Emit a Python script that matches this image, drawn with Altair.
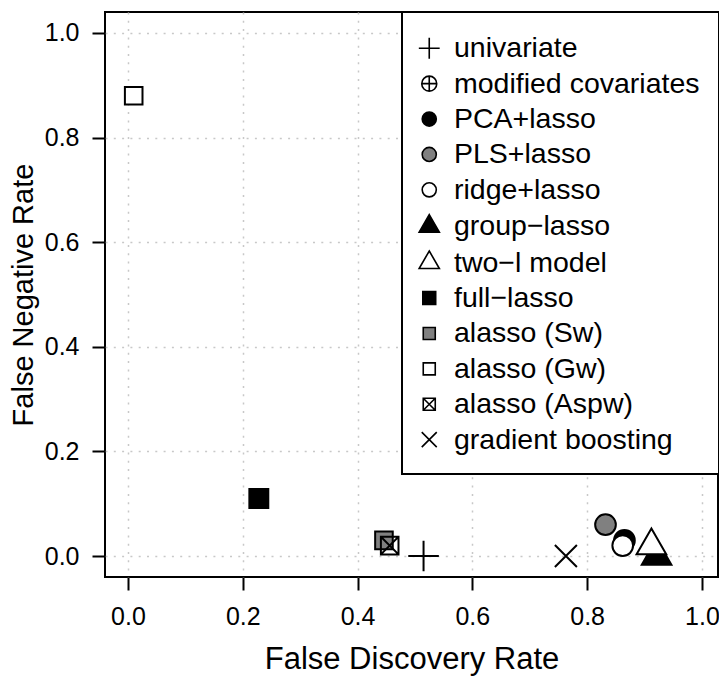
import altair as alt
import pandas as pd

# ---- data ----
methods = ["univariate", "modified covariates", "PCA+lasso", "PLS+lasso",
           "ridge+lasso", "group\u2212lasso", "two\u2212l model", "full\u2212lasso",
           "alasso (Sw)", "alasso (Gw)", "alasso (Aspw)", "gradient boosting"]
fdr = [0.515, None, 0.865, 0.832, 0.862, 0.921, 0.912, 0.228, 0.446, 0.010, 0.456, 0.763]
fnr = [0.000, None, 0.030, 0.060, 0.020, 0.000, 0.020, 0.110, 0.030, 0.880, 0.020, 0.000]
x_ticks = [0.0, 0.2, 0.4, 0.6, 0.8, 1.0]
y_ticks = [0.0, 0.2, 0.4, 0.6, 0.8, 1.0]

# ---- R-like plotting symbols (unit box -1..1) ----
CIRC = "M-0.94,0A0.94,0.94,0,1,0,0.94,0A0.94,0.94,0,1,0,-0.94,0Z"
SQ = "M-0.8,-0.8L0.8,-0.8L0.8,0.8L-0.8,0.8Z"
SQF = "M-0.86,-0.86L0.86,-0.86L0.86,0.86L-0.86,0.86Z"
TRI = "M0,-1.555L1.347,0.778L-1.347,0.778Z"
PLUS = "M-1.39,0L1.39,0M0,-1.39L0,1.39"
CROSS = "M-1,-1L1,1M-1,1L1,-1"
OPLUS = "M-1,0A1,1,0,1,0,1,0A1,1,0,1,0,-1,0ZM-1,0L1,0M0,-1L0,1"
BOXX = "M-0.8,-0.8L0.8,-0.8L0.8,0.8L-0.8,0.8ZM-0.8,-0.8L0.8,0.8M-0.8,0.8L0.8,-0.8"

shapes = [PLUS, OPLUS, CIRC, CIRC, CIRC, TRI, TRI, SQF, SQ, SQ, BOXX, CROSS]
fills = ["transparent", "transparent", "black", "#808080", "white", "black",
         "white", "black", "#808080", "white", "transparent", "transparent"]
strokes = ["black"] * len(methods)

df = pd.DataFrame({"method": methods, "fdr": fdr, "fnr": fnr})

FONT = "Liberation Sans"

legend = alt.Legend(
    title=" ", titleFontSize=1, titlePadding=2,
    orient="none", legendX=297, legendY=0,
    labelFont=FONT, labelFontSize=28.5, labelColor="black", labelLimit=500,
    labelOffset=10.5, symbolOffset=-6, symbolSize=225,
    symbolStrokeWidth=1.6, symbolOpacity=1, rowPadding=6.4,
    padding=19, strokeColor="black", fillColor="white",
)

chart = alt.Chart(df).mark_point(
    filled=True, strokeWidth=2, size=484, opacity=1
).encode(
    x=alt.X("fdr:Q", title="False Discovery Rate",
            scale=alt.Scale(domain=[-0.04, 1.028], nice=False, zero=False),
            axis=alt.Axis(values=x_ticks, format=".1f", labelPadding=14,
                          titlePadding=15, titleFontSize=31)),
    y=alt.Y("fnr:Q", title="False Negative Rate",
            scale=alt.Scale(domain=[-0.04, 1.04], nice=False, zero=False),
            axis=alt.Axis(values=y_ticks, format=".1f", labelPadding=13,
                          titlePadding=6, titleFontSize=29)),
    shape=alt.Shape("method:N", scale=alt.Scale(domain=methods, range=shapes),
                    legend=legend),
    fill=alt.Fill("method:N", scale=alt.Scale(domain=methods, range=fills),
                  legend=legend),
    stroke=alt.Stroke("method:N", scale=alt.Scale(domain=methods, range=strokes),
                      legend=legend),
).properties(
    width=613, height=565,
    autosize=alt.AutoSizeParams(type="none"),
    padding={"left": 97, "top": 4, "right": 1, "bottom": 100},
).configure_view(
    stroke="black", strokeWidth=2
).configure_axis(
    domain=False, tickColor="black", tickWidth=2, tickSize=13,
    labelFont=FONT, labelFontSize=25, labelColor="black",
    titleFont=FONT, titleFontWeight="normal", titleColor="black",
    grid=True, gridColor="#c8c8c8", gridDash=[2, 6.3], gridWidth=1.5,
).configure_legend(
    strokeWidth=2
)

chart.save("out.html", embed_options={"renderer": "svg", "actions": False})
